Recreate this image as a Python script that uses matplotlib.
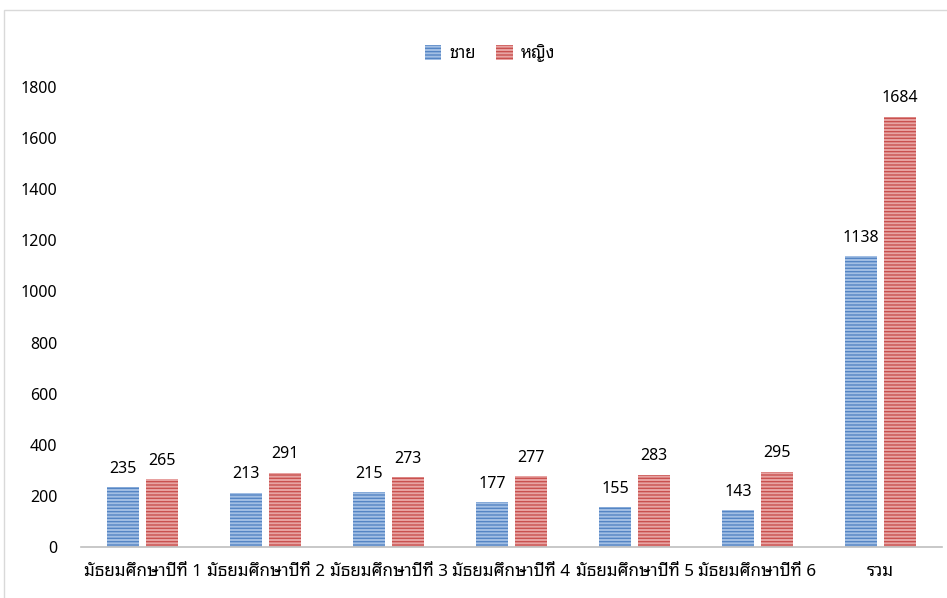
import matplotlib
matplotlib.use("Agg")
import matplotlib.pyplot as plt
from matplotlib.patches import Rectangle, Patch
import numpy as np

categories = ["มัธยมศึกษาปีที่ 1", "มัธยมศึกษาปีที่ 2", "มัธยมศึกษาปีที่ 3",
              "มัธยมศึกษาปีที่ 4", "มัธยมศึกษาปีที่ 5", "มัธยมศึกษาปีที่ 6", "รวม"]
male = [235, 213, 215, 177, 155, 143, 1138]
female = [265, 291, 273, 277, 283, 295, 1684]
series_names = ["ชาย", "หญิง"]
y_ticks = [0, 200, 400, 600, 800, 1000, 1200, 1400, 1600, 1800]

plt.rcParams["font.family"] = ["Noto Sans Thai Looped", "DejaVu Sans"]
plt.rcParams["hatch.linewidth"] = 1.0

fig = plt.figure(figsize=(9.47, 5.98), dpi=100)
# outer chart border
fig.patches.append(Rectangle((4 / 947, -0.1), 1.1, 1 - 10 / 598 + 0.1,
                             transform=fig.transFigure, fill=False,
                             edgecolor="#d9d9d9", lw=1))
ax = fig.add_axes([81 / 947, 51 / 598, 861 / 947, 460 / 598])

x = np.arange(len(categories))
w = 0.26
off = 0.158
blue_face, blue_edge = "#a3bfe4", "#5585c4"
red_face, red_edge = "#e8a4a3", "#c9514f"
ax.bar(x - off, male, w, color=blue_face, edgecolor=blue_edge, hatch="-----", lw=0)
ax.bar(x + off, female, w, color=red_face, edgecolor=red_edge, hatch="-----", lw=0)

for xs, vals in ((x - off, male), (x + off, female)):
    for xi, v in zip(xs, vals):
        ax.text(xi, v + 40, str(v), ha="center", va="bottom", fontsize=11.5)

ax.set_xlim(-0.5, len(categories) - 0.5)
ax.set_ylim(0, 1800)
ax.set_yticks(y_ticks)
ax.set_xticks(x)
ax.set_xticklabels(categories, fontsize=12.3)
ax.tick_params(axis="y", labelsize=11.5, length=0, pad=17)
ax.tick_params(axis="x", length=0, pad=12)
for s in ("top", "right", "left"):
    ax.spines[s].set_visible(False)
ax.spines["bottom"].set_color("#bfbfbf")
ax.spines["bottom"].set_linewidth(1.2)

handles = [Patch(facecolor=blue_face, edgecolor=blue_edge, hatch="-----", lw=0),
           Patch(facecolor=red_face, edgecolor=red_edge, hatch="-----", lw=0)]
fig.legend(handles, series_names, loc="center", bbox_to_anchor=(490 / 947, 1 - 53 / 598),
           ncol=2, frameon=False, fontsize=12, handlelength=1.0, handleheight=1.0,
           columnspacing=1.2, handletextpad=0.5)

fig.savefig("out.png", dpi=100)
